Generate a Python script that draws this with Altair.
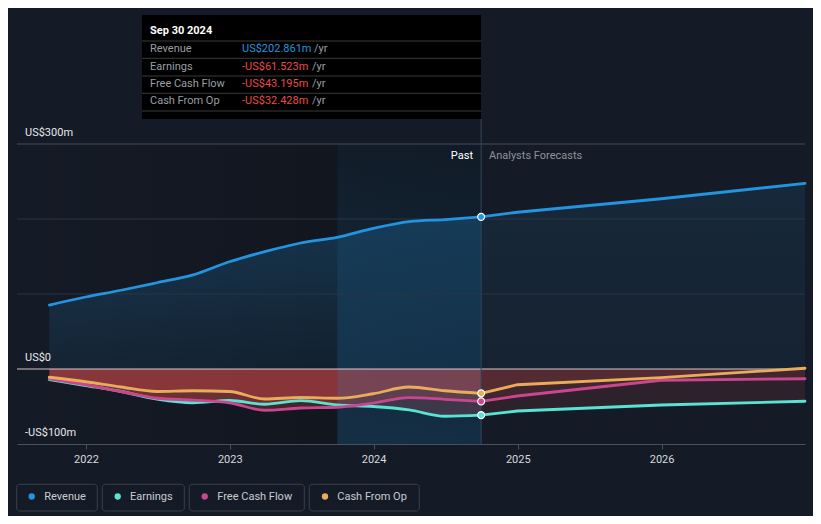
import altair as alt
import pandas as pd

# ---------------- data ----------------
past_dates = ["2021-09-30", "2021-12-31", "2022-03-31", "2022-06-30", "2022-09-30",
              "2022-12-31", "2023-03-31", "2023-06-30", "2023-09-30", "2023-12-31",
              "2024-03-31", "2024-06-30", "2024-09-30"]
revenue_past = [85.3, 96.0, 105.0, 115.0, 125.5, 143.0, 156.5, 168.0, 175.5, 187.5, 196.5, 199.3, 202.861]
earnings_past = [-14.0, -22.0, -30.0, -40.0, -45.0, -42.0, -47.0, -42.2, -48.0, -50.0, -54.5, -63.0, -61.523]
fcf_past = [-13.0, -21.0, -30.0, -39.0, -41.5, -45.0, -55.0, -52.0, -51.0, -45.5, -38.2, -40.4, -43.195]
cfo_past = [-11.0, -17.0, -24.0, -30.0, -29.0, -30.0, -40.0, -38.0, -39.0, -33.0, -24.0, -29.0, -32.428]

forecast_dates = ["2024-09-30", "2024-12-31", "2025-12-31", "2026-12-31"]
revenue_fc = [202.861, 209.0, 227.0, 247.5]
earnings_fc = [-61.523, -56.0, -48.0, -43.0]
fcf_fc = [-43.195, -36.0, -15.0, -13.0]
cfo_fc = [-32.428, -21.0, -11.5, 1.0]

series_names = ["Revenue", "Earnings", "Free Cash Flow", "Cash From Op"]
series_colors = ["#2394df", "#58e3d3", "#c8478f", "#e8ac5b"]

year_ticks = [2022, 2023, 2024, 2025, 2026]
grid_values = [300, 200, 100]
y_label_values = [300, 0, -100]
y_label_texts = ["US$300m", "US$0", "-US$100m"]

band_start = "2023-10-01"
band_end = "2024-09-30"
tooltip_date = "Sep 30 2024"

# ---------------- tables ----------------
past_series = [revenue_past, earnings_past, fcf_past, cfo_past]
fc_series = [revenue_fc, earnings_fc, fcf_fc, cfo_fc]

df_past = pd.DataFrame([
    {"date": d, "series": n, "value": v}
    for n, vals in zip(series_names, past_series)
    for d, v in zip(past_dates, vals)
])
df_fc = pd.DataFrame([
    {"date": d, "series": n, "value": v}
    for n, vals in zip(series_names, fc_series)
    for d, v in zip(forecast_dates, vals)
])
df_last = pd.DataFrame({"date": [past_dates[-1]] * 4, "series": series_names,
                        "value": [s[-1] for s in past_series]})

BG = "#151b26"
W, H = 788, 300

xscale = alt.Scale(type="utc",
                   domain=[alt.DateTime(year=2021, month=7, date=10, utc=True),
                           alt.DateTime(year=2026, month=12, date=31, utc=True)])
xaxis = alt.Axis(values=[alt.DateTime(year=y, month=1, date=1, utc=True) for y in year_ticks],
                 format="%Y", labelColor="#d6d9de", labelFontSize=11, labelFont="Roboto",
                 domainColor="#4a505a", tickColor="#4a505a", tickSize=5, grid=False,
                 title=None, labelPadding=4)
yscale = alt.Scale(domain=[-100, 300], nice=False, zero=False)


def X(field):
    return alt.X(field, scale=xscale, axis=xaxis)


def Y(field="value:Q"):
    return alt.Y(field, scale=yscale, axis=None, stack=None)


color_enc = alt.Color("series:N", scale=alt.Scale(domain=series_names, range=series_colors), legend=None)

layers = []

# past region shading (darkening gradient)
past_shade = alt.LinearGradient(gradient="linear", x1=0, x2=1, y1=0, y2=0,
                                stops=[alt.GradientStop(color="rgba(0,0,0,0)", offset=0),
                                       alt.GradientStop(color="rgba(0,0,0,0.28)", offset=1)])
layers.append(alt.Chart(pd.DataFrame({"s": ["2021-07-10"], "e": [past_dates[-1]]}))
              .mark_rect(color=past_shade)
              .encode(x=X("s:T"), x2="e:T", y=alt.value(0), y2=alt.value(H)))

# revenue areas
rev_past_grad = alt.LinearGradient(gradient="linear", x1=0, x2=0, y1=0, y2=1,
                                   stops=[alt.GradientStop(color="rgba(35,148,223,0.24)", offset=0),
                                          alt.GradientStop(color="rgba(35,148,223,0.08)", offset=1)])
rev_fc_grad = alt.LinearGradient(gradient="linear", x1=0, x2=0, y1=0, y2=1,
                                 stops=[alt.GradientStop(color="rgba(35,148,223,0.11)", offset=0),
                                        alt.GradientStop(color="rgba(35,148,223,0.06)", offset=1)])
layers.append(alt.Chart(df_past[df_past.series == "Revenue"])
              .mark_area(interpolate="monotone", color=rev_past_grad)
              .encode(x=X("date:T"), y=Y(), y2=alt.datum(0)))
layers.append(alt.Chart(df_fc[df_fc.series == "Revenue"])
              .mark_area(interpolate="linear", color=rev_fc_grad)
              .encode(x=X("date:T"), y=Y(), y2=alt.datum(0)))

# negative areas
neg = series_names[1:]
layers.append(alt.Chart(df_past[df_past.series.isin(neg)])
              .mark_area(interpolate="monotone", color="#d44a4a", opacity=0.27)
              .encode(x=X("date:T"), y=Y(), y2=alt.datum(0), detail="series:N"))
layers.append(alt.Chart(df_fc[df_fc.series.isin(neg)])
              .mark_area(interpolate="linear", color="#d44a4a", opacity=0.13)
              .encode(x=X("date:T"), y=Y(), y2=alt.datum(0), detail="series:N"))

# highlighted last-year band
band_grad = alt.LinearGradient(gradient="linear", x1=0, x2=0, y1=0, y2=1,
                               stops=[alt.GradientStop(color="rgba(35,148,223,0.05)", offset=0),
                                      alt.GradientStop(color="rgba(35,148,223,0.2)", offset=1)])
layers.append(alt.Chart(pd.DataFrame({"s": [band_start], "e": [band_end]}))
              .mark_rect(color=band_grad)
              .encode(x=X("s:T"), x2="e:T", y=alt.value(0), y2=alt.value(H)))

# gridlines
layers.append(alt.Chart(pd.DataFrame({"v": grid_values[1:]}))
              .mark_rule(color="#2c3441", strokeWidth=1)
              .encode(y=Y("v:Q")))
layers.append(alt.Chart(pd.DataFrame({"v": grid_values[:1]}))
              .mark_rule(color="#474d57", strokeWidth=1)
              .encode(y=Y("v:Q")))
layers.append(alt.Chart(pd.DataFrame({"v": [0]}))
              .mark_rule(color="#f2e6e6", strokeWidth=1.2, opacity=0.85)
              .encode(y=Y("v:Q")))

# lines
layers.append(alt.Chart(df_past)
              .mark_line(interpolate="monotone", strokeWidth=2.8, strokeCap="round")
              .encode(x=X("date:T"), y=Y(), color=color_enc))
layers.append(alt.Chart(df_fc)
              .mark_line(interpolate="linear", strokeWidth=2.8, strokeCap="round")
              .encode(x=X("date:T"), y=Y(), color=color_enc))

# vertical marker line
layers.append(alt.Chart(pd.DataFrame({"d": [past_dates[-1]]}))
              .mark_rule(color="#33475c", strokeWidth=1)
              .encode(x=X("d:T"), y=alt.value(-25), y2=alt.value(H)))

# points at the current date
layers.append(alt.Chart(df_last)
              .mark_circle(size=48, opacity=1, stroke="#ffffff", strokeWidth=1.2)
              .encode(x=X("date:T"), y=Y(), color=color_enc))

# y labels
layers.append(alt.Chart(pd.DataFrame({"v": y_label_values, "t": y_label_texts}))
              .mark_text(align="left", baseline="alphabetic", dy=-8, color="#e6e8eb",
                         fontSize=11, font="Roboto")
              .encode(x=alt.value(8), y=Y("v:Q"), text="t:N"))

# Past / Analysts Forecasts
layers.append(alt.Chart(pd.DataFrame({"t": ["Past"]}))
              .mark_text(align="right", baseline="middle", color="#ffffff", fontSize=11, font="Roboto")
              .encode(x=alt.value(456), y=alt.value(12), text="t:N"))
layers.append(alt.Chart(pd.DataFrame({"t": ["Analysts Forecasts"]}))
              .mark_text(align="left", baseline="middle", color="#8d929a", fontSize=11, font="Roboto")
              .encode(x=alt.value(472), y=alt.value(12), text="t:N"))

# tooltip box
TX0, TX1, TY0, TY1 = 125, 464, -129, -25
layers.append(alt.Chart(pd.DataFrame({"a": [0]}))
              .mark_rect(color="#000000")
              .encode(x=alt.value(TX0), x2=alt.value(TX1), y=alt.value(TY0), y2=alt.value(TY1)))
layers.append(alt.Chart(pd.DataFrame({"t": [tooltip_date]}))
              .mark_text(align="left", baseline="middle", color="#ffffff", fontSize=11,
                         fontWeight="bold", font="Roboto")
              .encode(x=alt.value(133), y=alt.value(-113), text="t:N"))
sep_y = [-103, -85.7, -68, -50.7, -33]
for sy in sep_y:
    layers.append(alt.Chart(pd.DataFrame({"a": [0]}))
                  .mark_rule(color="#3a3a3a", strokeWidth=1)
                  .encode(x=alt.value(TX0), x2=alt.value(TX1), y=alt.value(sy)))


def fmt(v):
    return ("-" if v < 0 else "") + "US$" + f"{abs(v):.3f}" + "m"


row_y = [-94.7, -77.3, -59.7, -43]
for i, (name, vals) in enumerate(zip(series_names, past_series)):
    v = vals[-1]
    vtxt = fmt(v)
    vcol = "#2394df" if v >= 0 else "#e84a4a"
    layers.append(alt.Chart(pd.DataFrame({"t": [name]}))
                  .mark_text(align="left", baseline="middle", color="#9a9ea5", fontSize=11, font="Roboto")
                  .encode(x=alt.value(133), y=alt.value(row_y[i]), text="t:N"))
    layers.append(alt.Chart(pd.DataFrame({"t": [vtxt]}))
                  .mark_text(align="left", baseline="middle", color=vcol, fontSize=11, font="Roboto")
                  .encode(x=alt.value(225), y=alt.value(row_y[i]), text="t:N"))
    layers.append(alt.Chart(pd.DataFrame({"t": ["/yr"]}))
                  .mark_text(align="left", baseline="middle", color="#9a9ea5", fontSize=11, font="Roboto")
                  .encode(x=alt.value(297 if v >= 0 else 295), y=alt.value(row_y[i]), text="t:N"))

# legend
box_x = [(-0.3, 80.3), (85.3, 167.3), (172.3, 287.3), (292.3, 402.3)]
dot_x = [14.7, 100.7, 187.7, 308]
txt_x = [27.3, 113, 200.3, 320.3]
for i, name in enumerate(series_names):
    layers.append(alt.Chart(pd.DataFrame({"a": [0]}))
                  .mark_rect(filled=False, color="#3a404a", strokeWidth=1, cornerRadius=3)
                  .encode(x=alt.value(box_x[i][0]), x2=alt.value(box_x[i][1]),
                          y=alt.value(340.3), y2=alt.value(367)))
    layers.append(alt.Chart(pd.DataFrame({"a": [0]}))
                  .mark_circle(size=40, color=series_colors[i], opacity=1)
                  .encode(x=alt.value(dot_x[i]), y=alt.value(352.5)))
    layers.append(alt.Chart(pd.DataFrame({"t": [name]}))
                  .mark_text(align="left", baseline="middle", color="#c8ccd2", fontSize=11, font="Roboto")
                  .encode(x=alt.value(txt_x[i]), y=alt.value(352.5), text="t:N"))

chart = alt.layer(*layers).properties(
    width=W, height=H,
    autosize=alt.AutoSizeParams(type="none"),
    padding={"left": 9, "top": 136, "right": 8, "bottom": 72},
    background=BG,
).configure(font="Roboto", view=alt.ViewConfig(stroke=None))

chart.save("out.html", embed_options={"renderer": "svg", "actions": False})
